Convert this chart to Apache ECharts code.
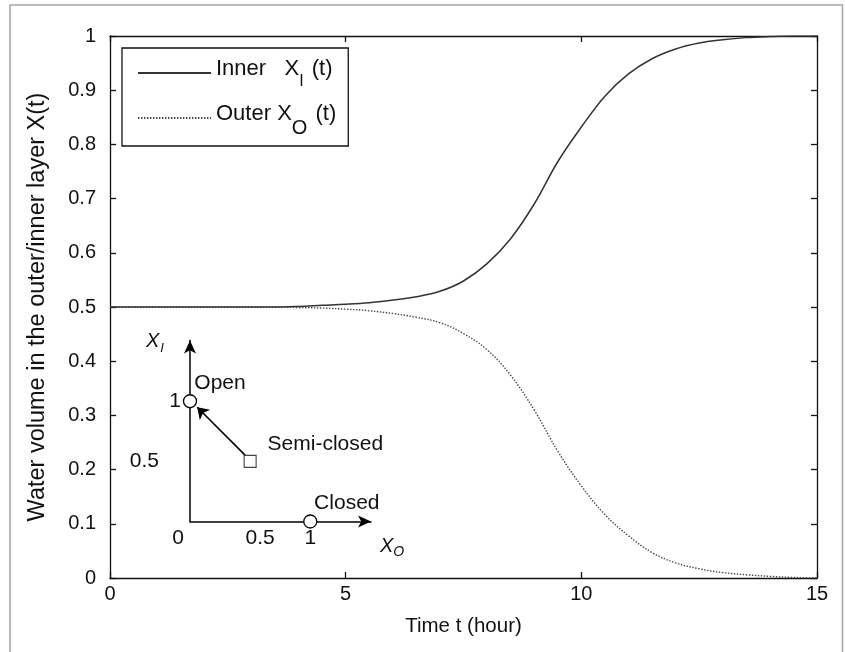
<!DOCTYPE html>
<html><head><meta charset="utf-8">
<script src="https://cdn.jsdelivr.net/npm/echarts@6/dist/echarts.min.js"></script>
<style>html,body{margin:0;padding:0;background:#fff}#c{width:845px;height:652px}</style>
</head><body><div id="c"></div>
<script>
// ---- main chart data ----
const timeHours = [0,0.5,1,1.5,2,2.5,3,3.5,4,4.5,5,5.5,6,6.5,7,7.5,8,8.5,9,9.5,10,10.5,11,11.5,12,12.5,13,13.5,14,14.5,15];
const innerX = [0.5,0.5,0.5,0.5,0.5,0.5,0.5,0.5,0.501,0.503,0.505,0.508,0.513,0.519,0.529,0.548,0.580,0.626,0.690,0.768,0.832,0.889,0.930,0.958,0.976,0.987,0.993,0.997,0.999,1.0,1.0];
const outerX = [0.5,0.5,0.5,0.5,0.5,0.5,0.5,0.5,0.499,0.498,0.496,0.493,0.488,0.481,0.471,0.451,0.421,0.374,0.310,0.234,0.170,0.117,0.078,0.047,0.028,0.017,0.010,0.006,0.003,0.001,0.0];
const seriesNames = ['Inner', 'Outer'];
const xAxisTitle = 'Time t (hour)';
const yAxisTitle = 'Water volume in the outer/inner layer X(t)';
// ---- inset diagram data ----
const insetCircleNames = ['Open', 'Closed'];
const insetCircles = [[0, 1], [1, 0]];
const insetSquareName = 'Semi-closed';
const insetSquare = [[0.5, 0.5]];
const insetArrow = [[0.46, 0.55], [0.06, 0.95]];

const FN = "'Liberation Sans Narrow', 'Arial Narrow', 'Liberation Sans', Arial, sans-serif";
const FA = "'Liberation Sans', Arial, sans-serif";
const TC = '#111';

const chart = echarts.init(document.getElementById('c'));
const zip = (xs, ys) => xs.map((x, i) => [x, ys[i]]);

const option = {
  animation: false,
  backgroundColor: '#fff',
  grid: [
    { left: 110, right: 28, top: 36, bottom: 74 },
    { left: 190, top: 340.5, width: 181, height: 181 }
  ],
  xAxis: [
    { gridIndex: 0, type: 'value', min: 0, max: 15, interval: 5, position: 'bottom',
      axisLine: { onZero: false, lineStyle: { color: TC, width: 1.3 } },
      axisTick: { inside: true, length: 6, lineStyle: { color: TC, width: 1.3 } },
      axisLabel: { margin: 6, fontSize: 20, fontFamily: FN, color: TC },
      splitLine: { show: false },
      name: xAxisTitle, nameLocation: 'middle', nameGap: 38,
      nameTextStyle: { fontSize: 20.5, fontFamily: FN, color: TC } },
    { gridIndex: 0, type: 'value', min: 0, max: 15, interval: 5, position: 'top',
      axisLine: { onZero: false, lineStyle: { color: TC, width: 1.3 } },
      axisTick: { inside: true, length: 6, lineStyle: { color: TC, width: 1.3 } },
      axisLabel: { show: false }, splitLine: { show: false } },
    { gridIndex: 1, type: 'value', min: 0, max: 1.505, interval: 0.5,
      axisLine: { onZero: false, symbol: ['none', 'arrow'], symbolSize: [9, 13], lineStyle: { color: '#000', width: 1.5 } },
      axisTick: { show: false }, splitLine: { show: false },
      axisLabel: { margin: 6, fontSize: 21, fontFamily: FA, color: TC,
        formatter: v => v > 1.2 ? '' : (v === 0 ? '{z|0}' : (v === 0.5 ? '{h|0.5}' : '1')),
        rich: { z: { fontSize: 21, fontFamily: FA, padding: [0, 24, 0, 0] }, h: { fontSize: 21, fontFamily: FA, padding: [0, 0, 0, 20] } } } }
  ],
  yAxis: [
    { gridIndex: 0, type: 'value', min: 0, max: 1, interval: 0.1, position: 'left',
      axisLine: { onZero: false, lineStyle: { color: TC, width: 1.3 } },
      axisTick: { inside: true, length: 6, lineStyle: { color: TC, width: 1.3 } },
      axisLabel: { margin: 14, fontSize: 20, fontFamily: FN, color: TC },
      splitLine: { show: false },
      name: yAxisTitle, nameLocation: 'middle', nameGap: 60,
      nameTextStyle: { fontSize: 23.5, fontFamily: FA, color: TC } },
    { gridIndex: 0, type: 'value', min: 0, max: 1, interval: 0.1, position: 'right',
      axisLine: { onZero: false, lineStyle: { color: TC, width: 1.3 } },
      axisTick: { inside: true, length: 6, lineStyle: { color: TC, width: 1.3 } },
      axisLabel: { show: false }, splitLine: { show: false } },
    { gridIndex: 1, type: 'value', min: 0, max: 1.505, interval: 0.5,
      axisLine: { onZero: false, symbol: ['none', 'arrow'], symbolSize: [9, 13], lineStyle: { color: '#000', width: 1.5 } },
      axisTick: { show: false }, splitLine: { show: false },
      axisLabel: { margin: 9, fontSize: 21, fontFamily: FA, color: TC,
        formatter: v => (v === 0 || v > 1.2) ? '' : (v === 0.5 ? '{h|0.5}' : '1'),
        rich: { h: { fontSize: 21, fontFamily: FA, padding: [0, 22, 0, 0] } } } }
  ],
  legend: {
    data: seriesNames, orient: 'vertical', left: 122, top: 48,
    padding: [10, 12, 8, 15], itemWidth: 73, itemHeight: 14, itemGap: 13,
    backgroundColor: '#fff', borderColor: TC, borderWidth: 1.3, borderRadius: 0,
    itemStyle: { opacity: 0 },
    formatter: n => n === 'Inner' ? '{a|Inner}   {x|X}{s|I} {a|(t)}' : '{a|Outer} {x|X}{o|O} {a|(t)}',
    textStyle: { fontFamily: FN, fontSize: 22, color: TC,
      rich: {
        a: { fontFamily: FN, fontSize: 22, color: TC, padding: [0, 0, 8, 0] },
        x: { fontFamily: FN, fontSize: 22, color: TC, padding: [0, 0, 8, 0] },
        s: { fontFamily: FN, fontSize: 16, color: TC, padding: [18, 2, 0, 0] },
        o: { fontFamily: FN, fontSize: 20, color: TC, padding: [20, 2, 0, 0] }
      } }
  },
  graphic: [
    { type: 'rect', shape: { x: 10, y: 5, width: 832.5, height: 700 }, style: { fill: 'none', stroke: '#a5a5a5', lineWidth: 1.5 }, z: -10, silent: true },
    { type: 'text', left: 146, top: 331, style: { text: '{x|X}{s|I}', rich: {
        x: { fontSize: 20, fontStyle: 'italic', fontFamily: FA, fill: TC },
        s: { fontSize: 13, fontStyle: 'italic', fontFamily: FA, fill: TC, padding: [14, 0, 0, 1] } } } },
    { type: 'text', left: 380, top: 536, style: { text: '{x|X}{s|O}', rich: {
        x: { fontSize: 20, fontStyle: 'italic', fontFamily: FA, fill: TC },
        s: { fontSize: 14, fontStyle: 'italic', fontFamily: FA, fill: TC, padding: [12, 0, 0, 0] } } } }
  ],
  series: [
    { name: seriesNames[1], type: 'line', xAxisIndex: 0, yAxisIndex: 0, data: zip(timeHours, outerX),
      symbol: 'none', showSymbol: false, smooth: 0.4,
      lineStyle: { color: '#444', width: 1.4, type: [1.4, 1.6] }, itemStyle: { color: '#444' }, z: 2 },
    { name: seriesNames[0], type: 'line', xAxisIndex: 0, yAxisIndex: 0, data: zip(timeHours, innerX),
      symbol: 'none', showSymbol: false, smooth: 0.4,
      lineStyle: { color: '#333', width: 1.5 }, itemStyle: { color: '#333' }, z: 3 },
    { type: 'lines', coordinateSystem: 'cartesian2d', xAxisIndex: 2, yAxisIndex: 2,
      symbol: ['none', 'arrow'], symbolSize: 11, silent: true,
      lineStyle: { color: '#000', width: 1.6, opacity: 1, curveness: 0 },
      data: [{ coords: insetArrow }], z: 4 },
    { type: 'scatter', xAxisIndex: 2, yAxisIndex: 2, symbol: 'circle', symbolSize: 13, silent: true,
      itemStyle: { color: '#fff', borderColor: '#000', borderWidth: 1.3, opacity: 1 },
      label: { show: true, formatter: '{b}', fontSize: 21, fontFamily: FA, color: TC, verticalAlign: 'middle' },
      data: insetCircles.map((p, i) => ({ name: insetCircleNames[i], value: p,
        label: { position: i === 0 ? [11.5, -10.5] : [11, -11] } })), z: 5 },
    { type: 'scatter', xAxisIndex: 2, yAxisIndex: 2, symbol: 'rect', symbolSize: 12, silent: true,
      itemStyle: { color: '#fff', borderColor: '#444', borderWidth: 1.1, opacity: 1 },
      label: { show: true, formatter: '{b}', fontSize: 21, fontFamily: FA, color: TC, verticalAlign: 'middle', position: [24, -11] },
      data: insetSquare.map(p => ({ name: insetSquareName, value: p })), z: 5 }
  ]
};
chart.setOption(option);
</script>
</body></html>
